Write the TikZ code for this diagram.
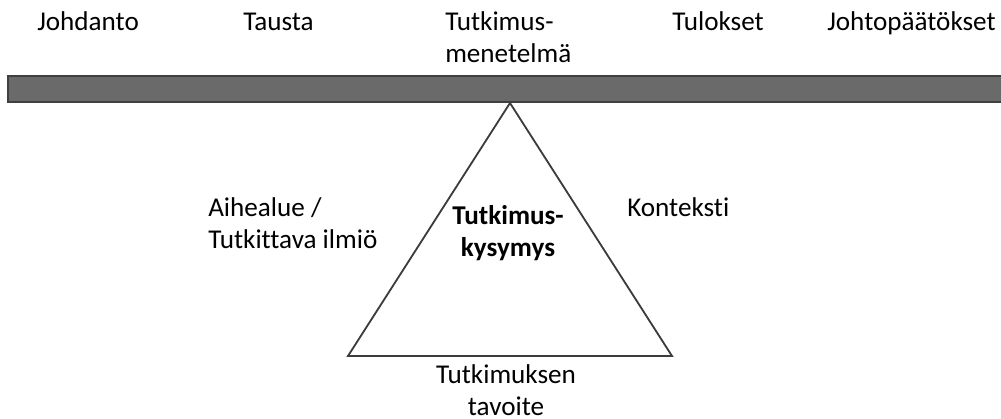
\documentclass[tikz,border=0pt]{standalone}
\usepackage{fontspec}
\setmainfont{Carlito}[Ligatures=NoCommon]
\definecolor{barfill}{HTML}{6A6A6A}
\definecolor{barline}{HTML}{404040}
\definecolor{triline}{HTML}{3C3C3C}
\begin{document}
\begin{tikzpicture}[
    x=0.025cm, y=-0.025cm,
    lbl/.style={inner sep=0pt, font=\fontsize{19.3pt}{22.8pt}\selectfont},
    phase/.style={lbl, anchor=base west, align=left},
    bar/.style={draw=barline, fill=barfill, line width=1.4pt},
    tri/.style={draw=triline, fill=white, line width=1.3pt, line join=miter},
]
    \useasboundingbox (0,0) rectangle (1001,419);
    % Phases on top (base = last line)
    \node[phase] (johdanto) at (37,31) {Johdanto};
    \node[phase] (tausta) at (243,31) {Tausta};
    \node[phase] (menetelma) at (445,63) {Tutkimus-\\menetelmä};
    \node[phase] (tulokset) at (672,31) {Tulokset};
    \node[phase] (johtopaatokset) at (827,31) {Johtopäätökset};
    % Beam
    \draw[bar] (8,76) rectangle (1006,102);
    % Triangle
    \coordinate (apex) at (510,103);
    \coordinate (baseR) at (672,356);
    \coordinate (baseL) at (348,356);
    \draw[tri] (apex) -- (baseR) -- (baseL) -- cycle;
    % Side labels
    \node[phase] (aihealue) at (208,249) {Aihealue /\\Tutkittava ilmiö};
    \node[phase] (konteksti) at (627,217) {Konteksti};
    \node[lbl, anchor=base, align=center, font=\fontsize{19.3pt}{22.8pt}\selectfont\bfseries] (kysymys) at (508,257) {Tutkimus-\\kysymys};
    \node[lbl, anchor=base, align=center] (tavoite) at (506,416) {Tutkimuksen\\tavoite};
\end{tikzpicture}
\end{document}
